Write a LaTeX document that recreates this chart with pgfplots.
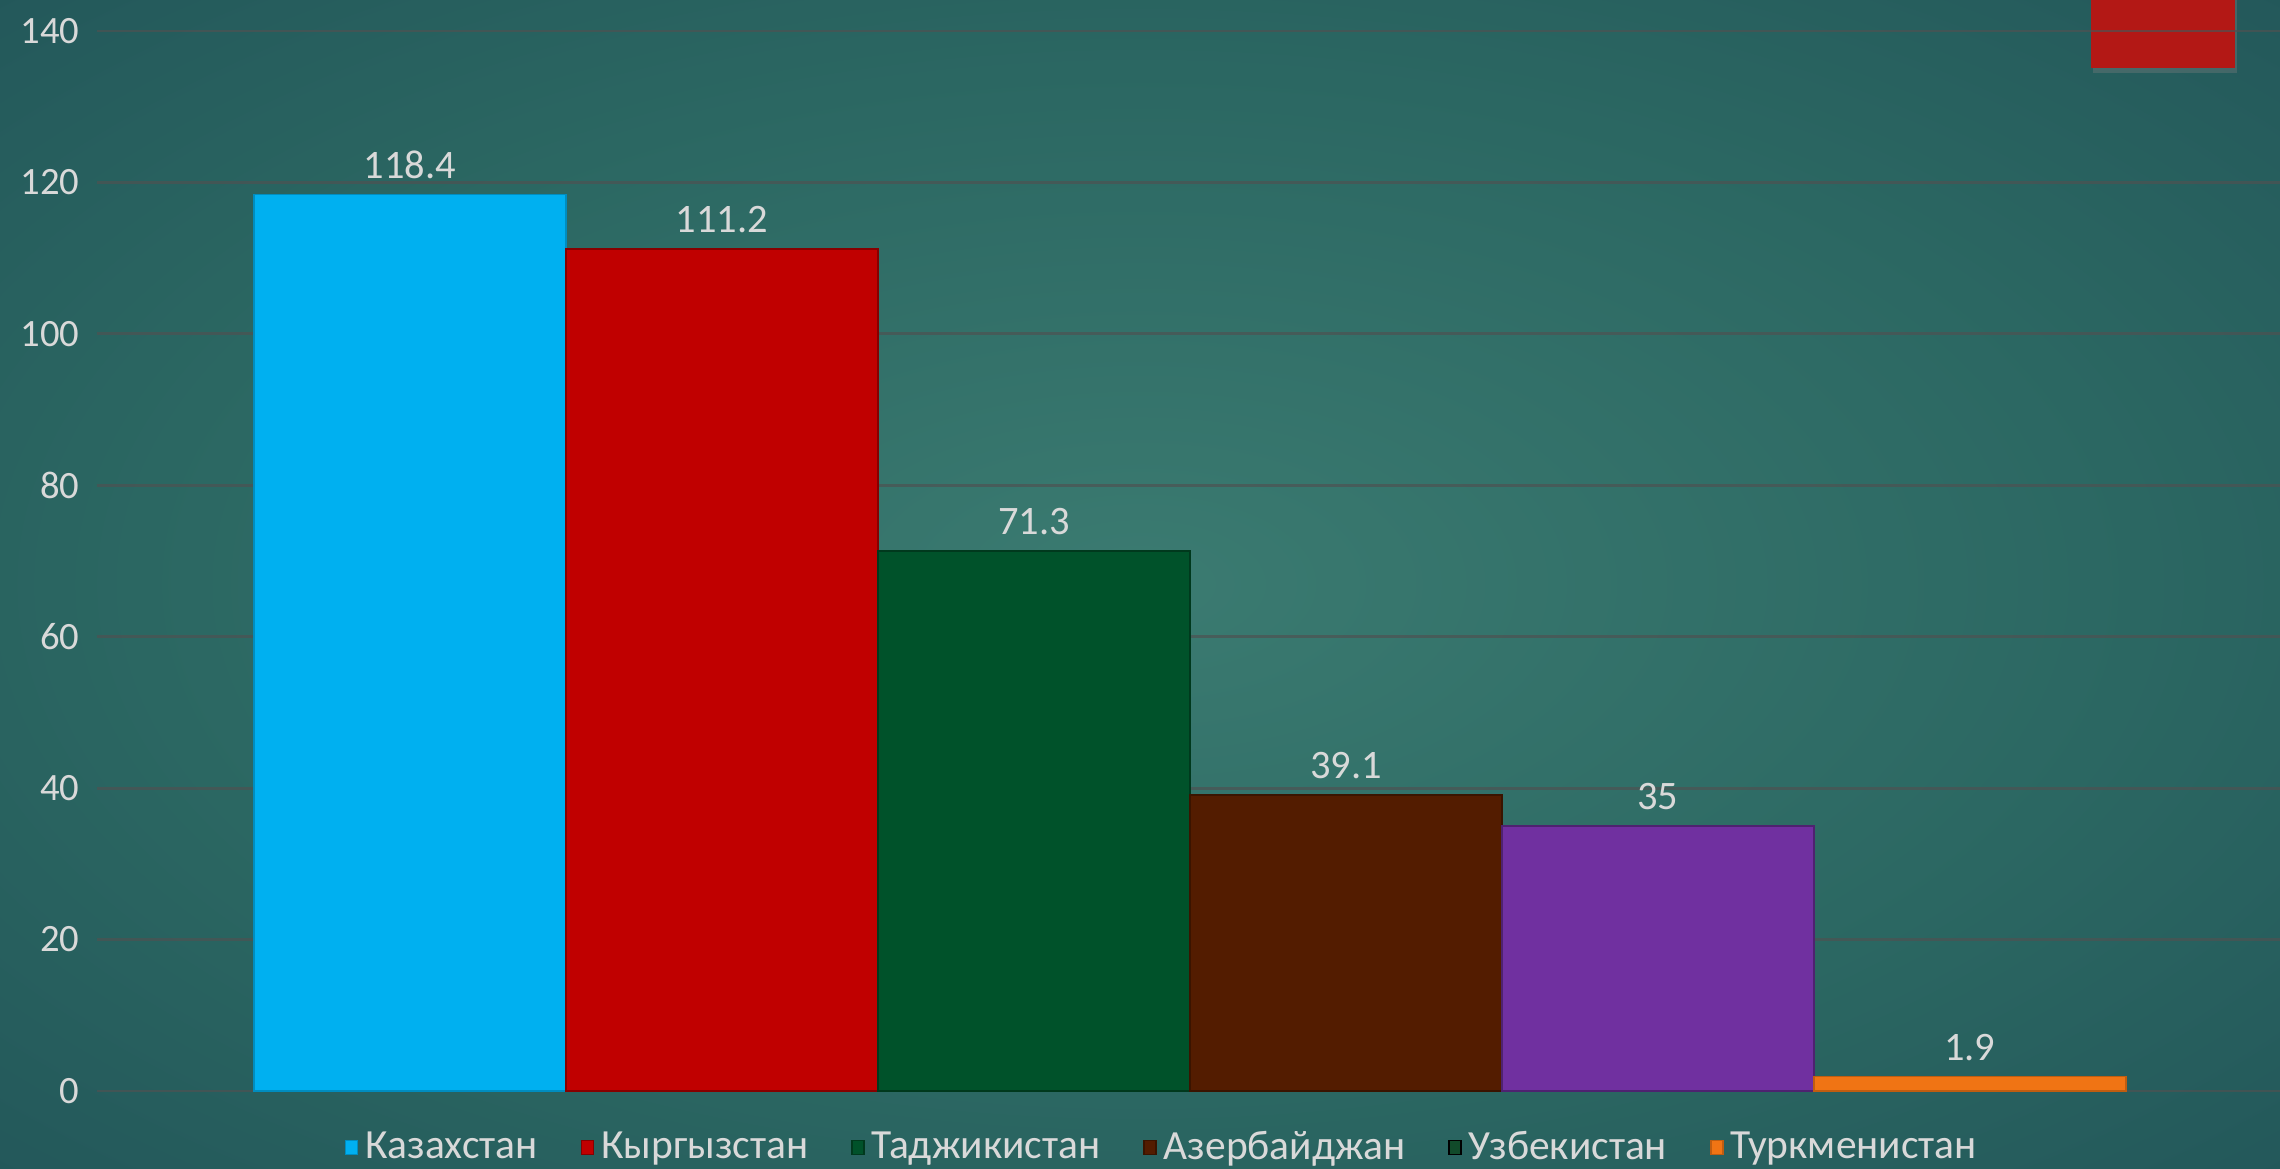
\documentclass[border=0pt]{standalone}
\usepackage{fontspec}
\setmainfont{Carlito}
\usepackage{pgfplots}
\pgfplotsset{compat=1.18}
\usetikzlibrary{shadows}
\definecolor{bgA}{HTML}{3B7B71}
\definecolor{bgB}{HTML}{2B6762}
\definecolor{bgC}{HTML}{1B4852}
\definecolor{bgD}{HTML}{113342}
\pgfdeclareradialshading{bgshade}{\pgfpoint{0bp}{0bp}}{color(0bp)=(bgA); color(22bp)=(bgB); color(50bp)=(bgC); color(71bp)=(bgD)}
\definecolor{cKaz}{HTML}{00B0F0}
\definecolor{cKyr}{HTML}{C00000}
\definecolor{cTaj}{HTML}{00522A}
\definecolor{cAze}{HTML}{531C00}
\definecolor{cUzb}{HTML}{7030A0}
\definecolor{cUzbLeg}{HTML}{114A2A}
\definecolor{cTur}{HTML}{F07414}
\definecolor{txt}{HTML}{D9D9D9}
\definecolor{gridc}{HTML}{4E5252}
\definecolor{redbox}{HTML}{B31815}
\pgfplotsset{sqlegend/.style={legend image code/.code={\fill[##1] (0cm,-0.07cm) rectangle (0.12cm,0.07cm);}}}
\begin{document}
\begin{tikzpicture}
\shade[shading=bgshade] (0,0) rectangle (22.8,11.68);
\fill[redbox, drop shadow={opacity=0.35, shadow xshift=0.02cm, shadow yshift=-0.05cm}] (20.91,11.0) rectangle (22.35,11.8);
\begin{axis}[
  at={(0.97cm,0.77cm)}, anchor=south west,
  scale only axis,
  width=21.83cm, height=10.91cm,
  xmin=-1.003, xmax=5.994,
  ymin=0, ymax=144.1,
  axis line style={draw=none},
  xtick=\empty,
  ytick={0,20,...,140},
  major tick length=0pt,
  ymajorgrids,
  grid style={gridc, opacity=0.7, line width=0.8pt},
  tick label style={txt, font=\fontsize{11}{13}\selectfont},
  yticklabel style={xshift=-0.05cm},
  /pgf/number format/assume math mode=true,
  clip=false,
  legend style={at={(axis description cs:0.489,-0.052)}, anchor=center,
    draw=none, fill=none, text=txt, font=\fontsize{11.8}{13}\selectfont,
    legend columns=-1,
    /tikz/every even column/.append style={column sep=0.36cm}},
  legend cell align=left,
  every node near coord/.append style={txt, font=\fontsize{11.5}{13}\selectfont, yshift=1pt},
]
\addplot[ybar, bar width=1, bar shift=0pt, fill=cKaz, draw=cKaz!80!black, line width=0.4pt, nodes near coords, sqlegend] coordinates {(0,118.4)};
\addlegendentry{Казахстан}
\addplot[ybar, bar width=1, bar shift=0pt, fill=cKyr, draw=cKyr!70!black, line width=0.4pt, nodes near coords, sqlegend] coordinates {(1,111.2)};
\addlegendentry{Кыргызстан}
\addplot[ybar, bar width=1, bar shift=0pt, fill=cTaj, draw=cTaj!70!black, line width=0.4pt, nodes near coords, sqlegend] coordinates {(2,71.3)};
\addlegendentry{Таджикистан}
\addplot[ybar, bar width=1, bar shift=0pt, fill=cAze, draw=cAze!70!black, line width=0.4pt, nodes near coords, sqlegend] coordinates {(3,39.1)};
\addlegendentry{Азербайджан}
\addplot[ybar, bar width=1, bar shift=0pt, fill=cUzb, draw=cUzb!70!black, line width=0.4pt, nodes near coords, forget plot] coordinates {(4,35)};
\addlegendimage{sqlegend, fill=cUzbLeg}
\addlegendentry{Узбекистан}
\addplot[ybar, bar width=1, bar shift=0pt, fill=cTur, draw=cTur!80!black, line width=0.4pt, nodes near coords, sqlegend] coordinates {(5,1.9)};
\addlegendentry{Туркменистан}
\end{axis}
\pgfresetboundingbox
\useasboundingbox (0,0) rectangle (22.8,11.68);
\end{tikzpicture}
\end{document}
